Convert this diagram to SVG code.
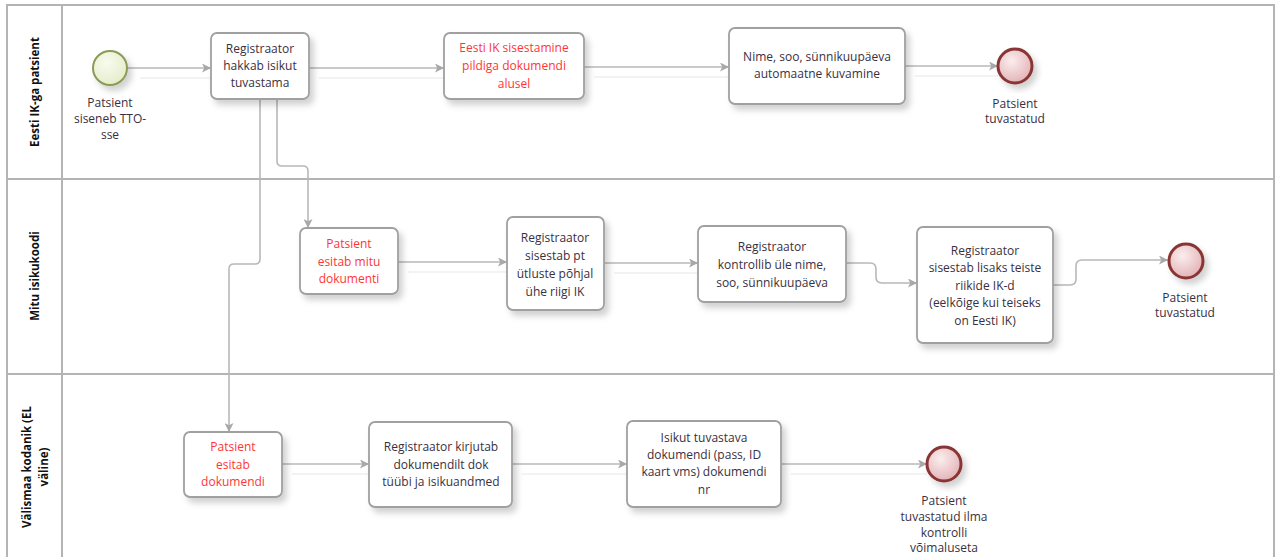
<svg xmlns="http://www.w3.org/2000/svg" width="1277" height="557" viewBox="0 0 1277 557">
<style>
.lane{fill:#fff;stroke:#b4b4b4;stroke-width:2}
.task{fill:#fff;stroke:#a0a0a0;stroke-width:1.8}
.t{font-family:"Open Sans","Noto Sans","Liberation Sans",sans-serif;font-size:12px;fill:#3a3040;text-anchor:middle}
.r{fill:#ff3535}
.lt{font-family:"Open Sans","Liberation Sans",sans-serif;font-size:11.5px;font-weight:bold;fill:#111;text-anchor:middle}
.c{fill:none;stroke:#b8b8b8;stroke-width:1.6}
.cs{fill:none;stroke:#f0f0f0;stroke-width:1.4}
.end{fill:url(#ge);stroke:#8a3535;stroke-width:3}
.start{fill:url(#gs);stroke:#8c9a58;stroke-width:2}
</style>
<defs>
<marker id="a" viewBox="0 0 10 10" refX="10" refY="5" markerWidth="9" markerHeight="9" markerUnits="userSpaceOnUse" orient="auto">
<path d="M0,0 L10,5 L0,10 L2.5,5 Z" fill="#a8a8a8"/>
</marker>
<filter id="sh" x="-20%" y="-20%" width="150%" height="150%">
<feDropShadow dx="4" dy="5" stdDeviation="3" flood-color="#000" flood-opacity="0.18"/>
</filter>
<radialGradient id="ge" cx="40%" cy="35%" r="70%">
<stop offset="0" stop-color="#fbeeee"/><stop offset="1" stop-color="#e2b0b4"/>
</radialGradient>
<radialGradient id="gs" cx="40%" cy="35%" r="70%">
<stop offset="0" stop-color="#f8fbee"/><stop offset="1" stop-color="#e3ecc8"/>
</radialGradient>
</defs>
<rect width="1277" height="557" fill="#fff"/>

<g id="lanes">
<rect class="lane" x="7" y="5" width="1267" height="174"/>
<rect class="lane" x="7" y="179" width="1267" height="195"/>
<rect class="lane" x="7" y="374" width="1267" height="190"/>
<line x1="62" y1="5" x2="62" y2="557" stroke="#b4b4b4" stroke-width="2"/>
<text class="lt" transform="translate(39,92) rotate(-90)">Eesti IK-ga patsient</text>
<text class="lt" transform="translate(39,276) rotate(-90)">Mitu isikukoodi</text>
<text class="lt" transform="translate(31,467) rotate(-90)">Välismaa kodanik (EL</text>
<text class="lt" transform="translate(48,467) rotate(-90)">väline)</text>
</g>

<g id="connectors">
<path class="cs" d="M140,78 H211 M319,78 H444 M594,77 H729 M915,76 H998 M408,272 H507 M614,273 H698 M292,474 H369 M522,474 H627 M791,474 H927"/>
<path class="c" d="M127,68 H211" marker-end="url(#a)"/>
<path class="c" d="M309,68 H444" marker-end="url(#a)"/>
<path class="c" d="M584,67 H729" marker-end="url(#a)"/>
<path class="c" d="M905,66 H998" marker-end="url(#a)"/>
<path class="c" d="M277,99 V161 Q277,166 282,166 H303 Q308,166 308,171 V228" marker-end="url(#a)"/>
<path class="c" d="M260,99 V259 Q260,264 255,264 H234 Q229,264 229,269 V432" marker-end="url(#a)"/>
<path class="c" d="M398,262 H507" marker-end="url(#a)"/>
<path class="c" d="M604,263 H698" marker-end="url(#a)"/>
<path class="c" d="M846,263 H870 Q876,263 876,269 V277 Q876,283 882,283 H917" marker-end="url(#a)"/>
<path class="c" d="M1053,285 H1070 Q1076,285 1076,279 V266 Q1076,260 1082,260 H1168" marker-end="url(#a)"/>
<path class="c" d="M282,464 H369" marker-end="url(#a)"/>
<path class="c" d="M512,464 H627" marker-end="url(#a)"/>
<path class="c" d="M781,464 H927" marker-end="url(#a)"/>
</g>

<g id="start">
<circle class="start" cx="110" cy="68" r="17" filter="url(#sh)"/>
<text class="t"><tspan x="110" y="107">Patsient</tspan><tspan x="110" y="123">siseneb TTO-</tspan><tspan x="110" y="139">sse</tspan></text>
</g>

<g id="task1">
<rect class="task" x="211" y="33" width="98" height="66" rx="6" filter="url(#sh)"/>
<text class="t"><tspan x="260" y="53">Registraator</tspan><tspan x="260" y="70">hakkab isikut</tspan><tspan x="260" y="87">tuvastama</tspan></text>
</g>

<g id="task2">
<rect class="task" x="444" y="33" width="140" height="66" rx="6" filter="url(#sh)"/>
<text class="t r"><tspan x="514" y="52">Eesti IK sisestamine</tspan><tspan x="514" y="70">pildiga dokumendi</tspan><tspan x="514" y="88">alusel</tspan></text>
</g>

<g id="task3">
<rect class="task" x="729" y="28" width="176" height="76" rx="6" filter="url(#sh)"/>
<text class="t"><tspan x="817" y="61">Nime, soo, sünnikuupäeva</tspan><tspan x="817" y="78">automaatne kuvamine</tspan></text>
</g>

<g id="end1">
<circle class="end" cx="1015" cy="66" r="17" filter="url(#sh)"/>
<text class="t"><tspan x="1015" y="108">Patsient</tspan><tspan x="1015" y="123">tuvastatud</tspan></text>
</g>

<g id="task4">
<rect class="task" x="300" y="228" width="98" height="66" rx="6" filter="url(#sh)"/>
<text class="t r"><tspan x="349" y="248">Patsient</tspan><tspan x="349" y="266">esitab mitu</tspan><tspan x="349" y="283">dokumenti</tspan></text>
</g>

<g id="task5">
<rect class="task" x="507" y="217" width="97" height="93" rx="6" filter="url(#sh)"/>
<text class="t"><tspan x="555" y="242">Registraator</tspan><tspan x="555" y="260">sisestab pt</tspan><tspan x="555" y="278">ütluste põhjal</tspan><tspan x="555" y="296">ühe riigi IK</tspan></text>
</g>

<g id="task6">
<rect class="task" x="698" y="226" width="148" height="76" rx="6" filter="url(#sh)"/>
<text class="t"><tspan x="772" y="251">Registraator</tspan><tspan x="772" y="269">kontrollib üle nime,</tspan><tspan x="772" y="287">soo, sünnikuupäeva</tspan></text>
</g>

<g id="task7">
<rect class="task" x="917" y="227" width="136" height="116" rx="6" filter="url(#sh)"/>
<text class="t"><tspan x="985" y="255">Registraator</tspan><tspan x="985" y="272">sisestab lisaks teiste</tspan><tspan x="985" y="290">riikide  IK-d</tspan><tspan x="985" y="307">(eelkõige kui teiseks</tspan><tspan x="985" y="325">on Eesti IK)</tspan></text>
</g>

<g id="end2">
<circle class="end" cx="1186" cy="261" r="17" filter="url(#sh)"/>
<text class="t"><tspan x="1185" y="302">Patsient</tspan><tspan x="1185" y="317">tuvastatud</tspan></text>
</g>

<g id="task8">
<rect class="task" x="184" y="432" width="98" height="65" rx="6" filter="url(#sh)"/>
<text class="t r"><tspan x="233" y="451">Patsient</tspan><tspan x="233" y="469">esitab</tspan><tspan x="233" y="486">dokumendi</tspan></text>
</g>

<g id="task9">
<rect class="task" x="369" y="422" width="143" height="85" rx="6" filter="url(#sh)"/>
<text class="t"><tspan x="441" y="451">Registraator kirjutab</tspan><tspan x="441" y="469">dokumendilt  dok</tspan><tspan x="441" y="486">tüübi ja isikuandmed</tspan></text>
</g>

<g id="task10">
<rect class="task" x="627" y="421" width="154" height="86" rx="6" filter="url(#sh)"/>
<text class="t"><tspan x="704" y="442">Isikut tuvastava</tspan><tspan x="704" y="459">dokumendi (pass, ID</tspan><tspan x="704" y="476">kaart vms) dokumendi</tspan><tspan x="704" y="494">nr</tspan></text>
</g>

<g id="end3">
<circle class="end" cx="944" cy="464" r="17" filter="url(#sh)"/>
<text class="t"><tspan x="944" y="505">Patsient</tspan><tspan x="944" y="521">tuvastatud ilma</tspan><tspan x="944" y="537">kontrolli</tspan><tspan x="944" y="552">võimaluseta</tspan></text>
</g>
</svg>
